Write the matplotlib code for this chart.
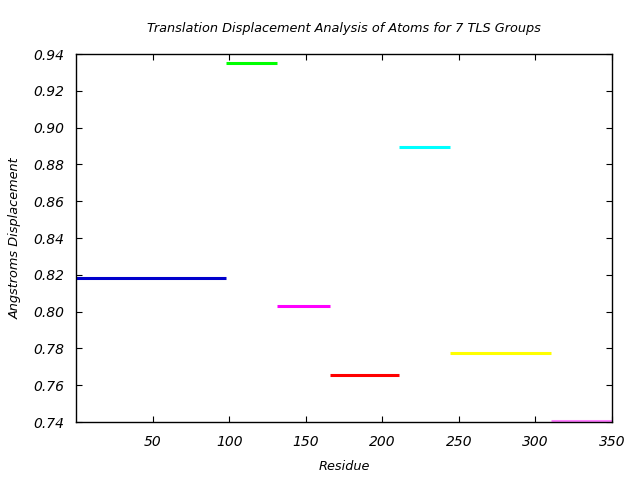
import matplotlib
matplotlib.use("Agg")
import matplotlib.pyplot as plt

# TLS groups: residue ranges and mean translation displacement
group_start = [0, 98, 131, 166, 211, 244, 310]
group_end = [98, 131, 166, 211, 244, 310, 350]
displacement = [0.818, 0.935, 0.803, 0.7655, 0.8893, 0.7773, 0.7405]
group_colors = ['#0000cc', '#00ff00', '#ff00ff', '#ff0000', '#00ffff', '#ffff00', '#ff80ff']

x_ticks = [50, 100, 150, 200, 250, 300, 350]
y_ticks = [0.74, 0.76, 0.78, 0.80, 0.82, 0.84, 0.86, 0.88, 0.90, 0.92, 0.94]

plt.rcParams['font.family'] = ['DejaVu Sans']
plt.rcParams['font.style'] = 'italic'

fig = plt.figure(figsize=(6.4, 4.8), dpi=100)
ax = fig.add_axes([0.1195, 0.1208, 0.8365, 0.7667])

for x0, x1, y, c in zip(group_start, group_end, displacement, group_colors):
    ax.plot([x0, x1], [y, y], color=c, lw=2.2, solid_capstyle='butt', clip_on=False)

ax.set_xlim(0, 350)
ax.set_ylim(0.74, 0.94)
ax.set_xticks(x_ticks)
ax.set_yticks(y_ticks)
ax.set_xticklabels([str(v) for v in x_ticks], fontstyle='italic')
ax.set_yticklabels([f"{v:.2f}" for v in y_ticks], fontstyle='italic')
ax.tick_params(direction='in', top=True, right=True, length=4, width=0.8,
               labelsize=10, pad=9)
for s in ax.spines.values():
    s.set_linewidth(1)

ax.set_title("Translation Displacement Analysis of Atoms for 7 TLS Groups",
             fontsize=9.3, pad=16, fontstyle='italic')
ax.set_xlabel("Residue", fontsize=9.3, labelpad=8, fontstyle='italic')
ax.set_ylabel("Angstroms Displacement", fontsize=9.3, labelpad=8, fontstyle='italic')

fig.savefig("out.png", dpi=100)
